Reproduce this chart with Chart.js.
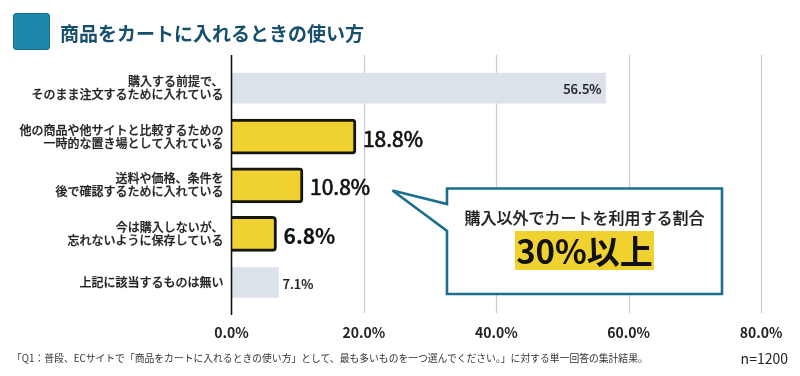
<!DOCTYPE html>
<html lang="ja">
<head>
<meta charset="utf-8">
<script src="https://cdn.jsdelivr.net/npm/chart.js@4.4.1/dist/chart.umd.min.js"></script>
<style>
  html, body { margin: 0; padding: 0; background: #fff; }
  body { width: 800px; height: 376px; position: relative; overflow: hidden; font-family: "Noto Sans CJK JP", "Noto Sans", sans-serif; }
  #wrap { position: absolute; left: 0; top: 0; width: 800px; height: 376px; }
  .abs { position: absolute; white-space: nowrap; }
  #titleBox { left: 13px; top: 13px; width: 35px; height: 35px; background: #1c87a8; border: 1px solid #15708e; border-radius: 3px; }
  #title { left: 60px; top: 20px; font-size: 19px; font-weight: 700; color: #17506c; line-height: 26px; }
  #note { left: 12px; top: 350px; font-size: 9.8px; color: #333; line-height: 16px; }
  #n { right: 12px; top: 349px; font-size: 14px; color: #222; line-height: 18px; }
  #callout { position: absolute; left: 0; top: 0; }
  #cText { left: 447px; width: 275px; top: 205px; text-align: center; font-size: 16px; color: #222; font-weight: 500; line-height: 24px; -webkit-text-stroke: 0.2px #222; }
  #cBig { left: 447px; width: 275px; top: 231px; text-align: center; }
  #cBig span { display: inline-block; background: #efd22f; font-size: 33px; font-weight: 700; color: #111; line-height: 39px; padding: 0 1px; }
</style>
</head>
<body>
<div id="wrap"><canvas id="c" width="800" height="376"></canvas></div>
<div class="abs" id="titleBox"></div>
<div class="abs" id="title">商品をカートに入れるときの使い方</div>
<svg id="callout" width="800" height="376">
  <polygon points="447,188.5 722,188.5 722,294 447,294 447,231 392.5,190.5 447,204" fill="#fff" stroke="#1b6e8d" stroke-width="2.6" stroke-linejoin="miter"/>
</svg>
<div class="abs" id="cText">購入以外でカートを利用する割合</div>
<div class="abs" id="cBig"><span>30%以上</span></div>
<div class="abs" id="note">「Q1：普段、ECサイトで「商品をカートに入れるときの使い方」として、最も多いものを一つ選んでください。」に対する単一回答の集計結果。</div>
<div class="abs" id="n">n=1200</div>
<script>
const categories = [
  ["購入する前提で、", "そのまま注文するために入れている"],
  ["他の商品や他サイトと比較するための", "一時的な置き場として入れている"],
  ["送料や価格、条件を", "後で確認するために入れている"],
  ["今は購入しないが、", "忘れないように保存している"],
  "上記に該当するものは無い"
];
const otherValues = [56.5, null, null, null, 7.1];
const highlightValues = [null, 18.8, 10.8, 6.8, null];
const xTicks = [0, 20, 40, 60, 80];

Chart.defaults.font.family = '"Noto Sans CJK JP", "Noto Sans", sans-serif';

const gridPlugin = {
  id: 'gridExt',
  beforeDatasetsDraw(chart) {
    const ctx = chart.ctx, xs = chart.scales.x;
    ctx.save();
    ctx.strokeStyle = '#cccccc';
    ctx.lineWidth = 1.2;
    xTicks.slice(1).forEach(v => {
      const x = Math.round(xs.getPixelForValue(v)) + 0.5;
      ctx.beginPath(); ctx.moveTo(x, 55); ctx.lineTo(x, 313); ctx.stroke();
    });
    ctx.restore();
  },
  afterDatasetsDraw(chart) {
    const ctx = chart.ctx, xs = chart.scales.x;
    ctx.save();
    ctx.strokeStyle = '#111';
    ctx.lineWidth = 1.6;
    const x0 = xs.getPixelForValue(0);
    ctx.beginPath(); ctx.moveTo(x0, 55); ctx.lineTo(x0, 315); ctx.stroke();
    // value labels
    ctx.textBaseline = 'middle';
    chart.data.datasets.forEach((ds, di) => {
      const meta = chart.getDatasetMeta(di);
      meta.data.forEach((bar, i) => {
        const v = ds.data[i];
        if (v === null || v === undefined) return;
        const txt = v.toFixed(1) + '%';
        if (di === 0) {
          ctx.font = '500 13px "Noto Sans CJK JP"';
          ctx.fillStyle = '#222';
          ctx.strokeStyle = '#222';
          ctx.lineWidth = 0.2;
          let x, y;
          if (v > 30) { ctx.textAlign = 'right'; x = bar.x - 4; y = bar.y + 1; }
          else { ctx.textAlign = 'left'; x = bar.x + 4; y = bar.y + 2; }
          ctx.fillText(txt, x, y); ctx.strokeText(txt, x, y);
        } else {
          const bold = v < 8;
          ctx.font = (bold ? '700' : '400') + ' 21px "Noto Sans CJK JP"';
          ctx.fillStyle = '#111';
          ctx.strokeStyle = '#111';
          ctx.lineWidth = bold ? 0.2 : 0.7;
          ctx.textAlign = 'left';
          ctx.fillText(txt, bar.x + 7, bar.y + 2);
          ctx.strokeText(txt, bar.x + 7, bar.y + 2);
        }
      });
    });
    ctx.restore();
  }
};

new Chart(document.getElementById('c'), {
  type: 'bar',
  data: {
    labels: categories,
    datasets: [
      { data: otherValues, backgroundColor: '#dbe2ea', borderWidth: 0, barThickness: 30, grouped: false },
      { data: highlightValues, backgroundColor: '#efd22f', borderColor: '#151515', borderWidth: 3, borderRadius: 4, borderSkipped: 'start', barThickness: 35, grouped: false }
    ]
  },
  options: {
    indexAxis: 'y',
    responsive: false,
    animation: false,
    devicePixelRatio: 1,
    layout: { padding: { top: 63.8, right: 36.7, left: 0, bottom: 0 } },
    plugins: { legend: { display: false }, tooltip: { enabled: false } },
    scales: {
      x: {
        min: 0, max: 80,
        afterBuildTicks(s) { s.ticks = xTicks.map(v => ({ value: v })); },
        afterFit(s) { s.height = 376 - 306.8; },
        grid: { display: false, drawTicks: false },
        border: { display: false },
        ticks: { padding: 17.5, color: '#222', font: { size: 14, weight: '700' }, callback: v => Number(v).toFixed(1) + '%' }
      },
      y: {
        afterFit(s) { s.width = 231.5; },
        grid: { display: false, drawTicks: false },
        border: { display: false },
        ticks: { padding: 8, color: '#222', textStrokeColor: '#222', textStrokeWidth: 0.25, font: { size: 12, weight: '500', lineHeight: 1.08 } }
      }
    }
  },
  plugins: [gridPlugin]
});
</script>
</body>
</html>
